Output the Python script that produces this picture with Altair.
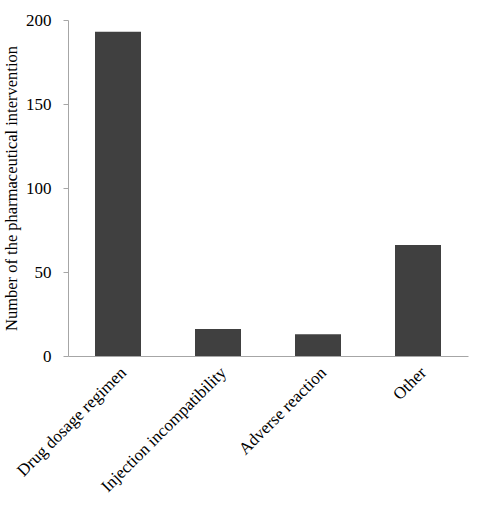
import altair as alt
import pandas as pd

categories = ["Drug dosage regimen", "Injection incompatibility", "Adverse reaction", "Other"]
values = [193, 16, 13, 66]

df = pd.DataFrame({"cat": categories, "val": values})

font = "Liberation Serif"

chart = alt.Chart(df).mark_bar(color="#404040").encode(
    x=alt.X("cat:N", sort=categories, title=None,
            scale=alt.Scale(paddingInner=0.54, paddingOuter=0.27),
            axis=alt.Axis(labelAngle=-45, labelAlign="right", labelBaseline="top",
                          ticks=False, labelPadding=8, domainColor="#a6a6a6",
                          labelFont=font, labelFontSize=17, labelColor="#000000")),
    y=alt.Y("val:Q", title="Number of the pharmaceutical intervention",
            scale=alt.Scale(domain=[0, 200]),
            axis=alt.Axis(values=[0, 50, 100, 150, 200], grid=False, tickSize=5,
                          tickColor="#a6a6a6", domainColor="#a6a6a6",
                          labelFont=font, labelFontSize=17, labelColor="#000000",
                          labelPadding=12, titleFont=font, titleFontSize=16.5,
                          titleFontWeight="normal", titleColor="#000000", titlePadding=6)),
).properties(
    width=400, height=336,
    autosize=alt.AutoSizeParams(type="none"),
    padding={"left": 68, "top": 20, "right": 22, "bottom": 165},
).configure_view(stroke=None)

chart.save("out.html", embed_options={"renderer": "svg", "actions": False})
